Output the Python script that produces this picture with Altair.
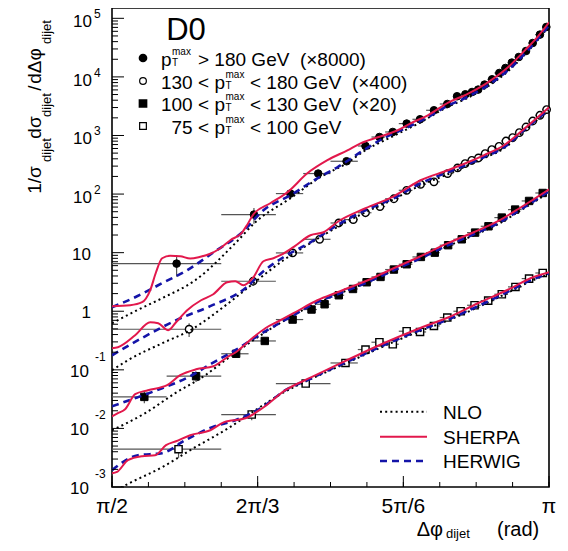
import math
import pandas as pd
import altair as alt

PI = math.pi
FONT = "Liberation Sans"
RED = "#e2184c"
BLUE = "#1414a8"
GRAY = "#555555"
W, H = 437, 479

# ---------------- measured data (x in rad) ----------------
# pT > 180 GeV (x8000), filled circles
s1_x = [1.803, 2.081, 2.212, 2.312, 2.414, 2.482, 2.532, 2.580, 2.630, 2.678, 2.728, 2.776, 2.811,
        2.841, 2.865, 2.887, 2.910, 2.937, 2.963, 2.985, 3.008, 3.033, 3.059, 3.083, 3.109, 3.132]
s1_y = [6.5, 44.7, 102, 224, 363, 662, 942, 1148, 1596, 1890, 2692, 3447, 4667,
        5047, 5525, 6070, 7390, 9100, 11660, 14190, 17540, 21860, 27670, 37880, 52700, 71100]
s1_edges = [0.5, 0.625, 0.6875, 0.71875, 0.75, 0.78125, 0.796875, 0.8125, 0.828125, 0.84375,
            0.859375, 0.875, 0.890625, 0.8984375, 0.90625, 0.9140625, 0.921875, 0.9296875, 0.9375,
            0.9453125, 0.953125, 0.9609375, 0.96875, 0.9765625, 0.984375, 0.9921875, 1.0]
s1_err = [0.40, 0.30, 0.20, 0.14, 0.10, 0.08, 0.07, 0.06, 0.05, 0.05, 0.05, 0.04, 0.04,
          0.04, 0.04, 0.04, 0.04, 0.04, 0.04, 0.04, 0.04, 0.04, 0.04, 0.04, 0.04, 0.04]

# 130 < pT < 180 GeV (x400), open circles
s2_x = [1.848, 2.078, 2.220, 2.317, 2.386, 2.438, 2.482, 2.534, 2.584, 2.630, 2.680, 2.728, 2.777, 2.813,
        2.840, 2.864, 2.888, 2.912, 2.936, 2.962, 2.987, 3.011, 3.035, 3.059, 3.083, 3.109, 3.133]
s2_y = [0.493, 3.25, 9.9, 16.9, 32.1, 36.7, 48.0, 61.2, 83.2, 116, 147, 162, 224, 279,
        331, 377, 413, 491, 574, 654, 805, 920, 1119, 1396, 1767, 2213, 2767]
s2_edges = [0.5, 0.625, 0.6875, 0.71875, 0.75, 0.765625, 0.78125, 0.796875, 0.8125, 0.828125,
            0.84375, 0.859375, 0.875, 0.890625, 0.8984375, 0.90625, 0.9140625, 0.921875, 0.9296875,
            0.9375, 0.9453125, 0.953125, 0.9609375, 0.96875, 0.9765625, 0.984375, 0.9921875, 1.0]
s2_err = [0.26, 0.15, 0.10, 0.08, 0.06, 0.05, 0.05, 0.04, 0.04, 0.04, 0.04, 0.04, 0.04, 0.04,
          0.04, 0.04, 0.04, 0.04, 0.04, 0.04, 0.04, 0.04, 0.04, 0.04, 0.04, 0.04, 0.04]

# 100 < pT < 130 GeV (x20), filled squares
s3_x = [1.687, 1.873, 2.017, 2.120, 2.220, 2.288, 2.335, 2.386, 2.437, 2.486, 2.536, 2.584,
        2.630, 2.681, 2.731, 2.779, 2.828, 2.876, 2.924, 2.972, 3.020, 3.070, 3.119]
s3_y = [0.0345, 0.0778, 0.188, 0.311, 0.721, 1.07, 1.316, 1.875, 2.40, 3.125, 3.85, 5.15,
        6.34, 8.45, 10.0, 13.4, 16.9, 22.0, 28.2, 39.7, 54.4, 76.3, 104.4]
s3_edges = [0.5, 0.5625, 0.625, 0.65625, 0.6875, 0.71875, 0.734375, 0.75, 0.765625, 0.78125,
            0.796875, 0.8125, 0.828125, 0.84375, 0.859375, 0.875, 0.890625, 0.90625, 0.921875,
            0.9375, 0.953125, 0.96875, 0.984375, 1.0]
s3_err = [0.22, 0.20, 0.10, 0.08, 0.06, 0.05, 0.04, 0.04, 0.04, 0.04, 0.04, 0.04,
          0.04, 0.04, 0.04, 0.04, 0.04, 0.04, 0.04, 0.04, 0.04, 0.04, 0.04]

# 75 < pT < 100 GeV, open squares
s4_x = [1.810, 2.073, 2.267, 2.410, 2.482, 2.532, 2.580, 2.630, 2.678, 2.728, 2.776, 2.824,
        2.874, 2.923, 2.972, 3.021, 3.070, 3.119]
s4_y = [0.00442, 0.01726, 0.0583, 0.131, 0.222, 0.296, 0.2735, 0.456, 0.443, 0.561, 0.781, 1.0,
        1.265, 1.52, 1.95, 2.60, 3.61, 4.5]
s4_edges = [0.5, 0.625, 0.6875, 0.75, 0.78125, 0.796875, 0.8125, 0.828125, 0.84375, 0.859375,
            0.875, 0.890625, 0.90625, 0.921875, 0.9375, 0.953125, 0.96875, 0.984375, 1.0]
s4_err = [0.29, 0.20, 0.10, 0.08, 0.06, 0.05, 0.04, 0.04, 0.04, 0.04, 0.04, 0.04,
          0.04, 0.04, 0.04, 0.04, 0.04, 0.04]

# ---------------- theory curves ----------------
sherpa1_x = [1.571, 1.636, 1.679, 1.708, 1.729, 1.751, 1.780, 1.816, 1.852, 1.888, 1.924, 1.960, 1.996,
             2.039, 2.057, 2.079, 2.140, 2.201, 2.273, 2.345, 2.417, 2.464, 2.526, 2.598, 2.644, 2.706,
             2.781, 2.846, 2.911, 2.990, 3.055, 3.102, 3.142]
sherpa1_y = [1.22, 1.27, 1.43, 2.28, 4.63, 8.02, 8.85, 8.68, 7.93, 8.51, 9.58, 11.9, 16.3,
             22.3, 30.0, 45.2, 69.7, 107, 226, 378, 559, 736, 931, 1230, 1610, 2210,
             3690, 5050, 7480, 14000, 28400, 49300, 85500]
herwig1_x = [1.571, 1.661, 1.751, 1.841, 1.931, 2.039, 2.115, 2.212, 2.309, 2.381, 2.475, 2.547, 2.633,
             2.706, 2.774, 2.846, 2.911, 2.990, 3.059, 3.142]
herwig1_y = [1.17, 1.80, 3.01, 5.01, 9.77, 22.3, 53.0, 95.5, 186, 287, 559, 896, 1380,
             2050, 3150, 4490, 6650, 12500, 26300, 76000]
nlo1_x = [1.571, 1.661, 1.751, 1.870, 2.014, 2.086, 2.212, 2.313, 2.414, 2.482, 2.580, 2.680, 2.774,
          2.846, 2.911, 2.990, 3.059, 3.142]
nlo1_y = [0.624, 1.04, 1.67, 3.38, 14.5, 33.0, 84.8, 186, 336, 559, 969, 1680, 3030,
          4310, 6390, 12000, 25300, 73000]

sherpa2_x = [1.571, 1.592, 1.654, 1.708, 1.737, 1.773, 1.801, 1.841, 1.891, 1.935, 1.985, 2.014, 2.043,
             2.079, 2.115, 2.151, 2.176, 2.223, 2.284, 2.331, 2.385, 2.482, 2.583, 2.680, 2.778, 2.850,
             2.907, 2.980, 3.059, 3.142]
sherpa2_y = [0.234, 0.243, 0.389, 0.649, 0.624, 0.474, 0.649, 1.04, 1.54, 1.95, 3.13, 3.25, 2.78,
             3.80, 7.13, 8.02, 9.04, 12.4, 19.8, 22.3, 34.4, 57.3, 91.7, 172, 255, 349,
             459, 681, 1380, 3030]
herwig2_x = [1.571, 1.690, 1.809, 1.924, 2.050, 2.111, 2.187, 2.284, 2.385, 2.482, 2.583, 2.680, 2.778,
             2.850, 2.907, 2.980, 3.059, 3.142]
herwig2_y = [0.177, 0.374, 0.730, 1.22, 2.47, 4.63, 8.35, 15.0, 30.5, 53.0, 84.8, 153, 236,
             323, 425, 630, 1330, 2800]
nlo2_x = [1.571, 1.628, 1.751, 1.852, 1.989, 2.075, 2.187, 2.284, 2.385, 2.482, 2.583, 2.680, 2.778,
          2.850, 2.907, 2.980, 3.059, 3.142]
nlo2_y = [0.0984, 0.146, 0.284, 0.474, 1.37, 2.89, 7.42, 14.5, 28.2, 48.9, 81.5, 141, 218,
          310, 408, 605, 1280, 2690]

sherpa3_x = [1.571, 1.592, 1.618, 1.654, 1.700, 1.769, 1.816, 1.873, 1.935, 1.985, 2.021, 2.079, 2.122,
             2.169, 2.223, 2.309, 2.381, 2.490, 2.583, 2.680, 2.778, 2.871, 2.958, 3.041, 3.142]
sherpa3_y = [0.0161, 0.0182, 0.0213, 0.0384, 0.0449, 0.0546, 0.0809, 0.102, 0.115, 0.164, 0.208, 0.360,
             0.513, 0.675, 0.925, 1.54, 2.11, 3.38, 5.42, 8.68, 14.5, 22.3, 34.4, 59.6, 121]
herwig3_x = [1.571, 1.664, 1.751, 1.845, 1.931, 2.014, 2.104, 2.223, 2.309, 2.381, 2.490, 2.583, 2.680,
             2.778, 2.871, 2.958, 3.041, 3.142]
herwig3_y = [0.0239, 0.0341, 0.0486, 0.0748, 0.130, 0.216, 0.405, 0.855, 1.43, 1.95, 3.13, 5.01, 8.02,
             13.4, 20.6, 31.8, 55.1, 112]
nlo3_x = [1.571, 1.690, 1.798, 1.906, 1.978, 2.068, 2.162, 2.248, 2.381, 2.490, 2.583, 2.680, 2.778,
          2.871, 2.958, 3.041, 3.142]
nlo3_y = [0.00931, 0.0182, 0.0399, 0.0809, 0.146, 0.296, 0.577, 1.0, 1.95, 3.13, 5.01, 8.02, 12.9,
          19.8, 30.5, 53.0, 107]

sherpa4_x = [1.571, 1.589, 1.628, 1.679, 1.726, 1.765, 1.801, 1.852, 1.924, 1.974, 2.050, 2.111, 2.194,
             2.288, 2.363, 2.468, 2.572, 2.677, 2.781, 2.886, 2.990, 3.084, 3.142]
sherpa4_y = [0.00172, 0.00181, 0.00287, 0.00336, 0.00349, 0.00517, 0.00605, 0.00766, 0.00931, 0.0128,
             0.0149, 0.0221, 0.0449, 0.0748, 0.111, 0.192, 0.320, 0.513, 0.791, 1.37, 2.28, 3.80, 4.63]
herwig4_x = [1.571, 1.664, 1.751, 1.834, 1.931, 2.014, 2.111, 2.194, 2.288, 2.363, 2.468, 2.572, 2.677,
             2.781, 2.886, 2.990, 3.084, 3.142]
herwig4_y = [0.00194, 0.00349, 0.00378, 0.00629, 0.0105, 0.0138, 0.0230, 0.0449, 0.0719, 0.106, 0.177,
             0.296, 0.474, 0.730, 1.22, 2.11, 3.52, 4.45]
nlo4_x = [1.571, 1.607, 1.751, 1.870, 1.989, 2.075, 2.183, 2.284, 2.363, 2.468, 2.572, 2.677, 2.781,
          2.886, 2.990, 3.084, 3.142]
nlo4_y = [0.000783, 0.000993, 0.00218, 0.00478, 0.0101, 0.0189, 0.0399, 0.0692, 0.102, 0.171, 0.284,
          0.456, 0.702, 1.17, 2.03, 3.38, 4.28]

# axis tick labels
x_tick_vals = [0.5, 2 / 3, 5 / 6, 1.0]          # in units of pi
x_tick_text = ["\u03c0/2", "2\u03c0/3", "5\u03c0/6", "\u03c0"]
y_pos_vals = [1e2, 1e3, 1e4, 1e5]
y_pos_exp = ["2", "3", "4", "5"]
y_plain_vals = [10, 1]
y_plain_text = ["10", "1"]
y_neg_vals = [1e-1, 1e-2, 1e-3]
y_neg_exp = ["-1", "-2", "-3"]

# ---------------- build tables ----------------
def points(xs, ys, edges, errs):
    rows = []
    for i, (x, y) in enumerate(zip(xs, ys)):
        e = errs[i]
        rows.append(dict(x=x, y=y, xlo=edges[i] * PI, xhi=edges[i + 1] * PI,
                         ylo=y * (1 - e), yhi=y * (1 + e)))
    return pd.DataFrame(rows)

p1 = points(s1_x, s1_y, s1_edges, s1_err)
p2 = points(s2_x, s2_y, s2_edges, s2_err)
p3 = points(s3_x, s3_y, s3_edges, s3_err)
p4 = points(s4_x, s4_y, s4_edges, s4_err)
allp = pd.concat([p1, p2, p3, p4], ignore_index=True)

curves = []
for model, lst in [("NLO", [(nlo1_x, nlo1_y), (nlo2_x, nlo2_y), (nlo3_x, nlo3_y), (nlo4_x, nlo4_y)]),
                   ("SHERPA", [(sherpa1_x, sherpa1_y), (sherpa2_x, sherpa2_y), (sherpa3_x, sherpa3_y), (sherpa4_x, sherpa4_y)]),
                   ("HERWIG", [(herwig1_x, herwig1_y), (herwig2_x, herwig2_y), (herwig3_x, herwig3_y), (herwig4_x, herwig4_y)])]:
    for k, (xs, ys) in enumerate(lst):
        for x, y in zip(xs, ys):
            curves.append(dict(model=model, series=k, x=x, y=y))
cdf = pd.DataFrame(curves)

XS = alt.Scale(domain=[PI / 2, PI], nice=False, zero=False)
YS = alt.Scale(type="log", domain=[1e-3, 1.5e5], nice=False)

def X(f):
    return alt.X(f, type="quantitative", scale=XS, axis=None)

def Y(f):
    return alt.Y(f, type="quantitative", scale=YS, axis=None)

ONE = pd.DataFrame({"k": [0]})

def txt(s, x, y, size, align="left", baseline="alphabetic", angle=None):
    kw = dict(text=s, align=align, baseline=baseline, fontSize=size, font=FONT, color="black")
    if angle is not None:
        kw["angle"] = angle
    return alt.Chart(ONE).mark_text(**kw).encode(x=alt.value(x), y=alt.value(y))

layers = []

# error bars
layers.append(alt.Chart(allp).mark_rule(color=GRAY, strokeWidth=1.2).encode(
    x=X("xlo"), x2="xhi", y=Y("y")))
layers.append(alt.Chart(allp).mark_rule(color=GRAY, strokeWidth=1.2).encode(
    x=X("x"), y=Y("ylo"), y2="yhi"))

# markers
def marker(df, shape, black, size):
    if black:
        m = alt.Chart(df).mark_point(shape=shape, filled=True, fill="black", stroke="black",
                                     strokeWidth=1, size=size, opacity=1)
    else:
        m = alt.Chart(df).mark_point(shape=shape, filled=True, fill="white", stroke="black",
                                     strokeWidth=1.4, size=size, opacity=1)
    return m.encode(x=X("x"), y=Y("y"))

layers.append(marker(p1, "circle", True, 58))
layers.append(marker(p2, "circle", False, 55))
layers.append(marker(p3, "square", True, 55))
layers.append(marker(p4, "square", False, 52))

# curves
styles = {
    "NLO": dict(color="black", strokeWidth=2, strokeDash=[2, 3.2]),
    "SHERPA": dict(color=RED, strokeWidth=2),
    "HERWIG": dict(color=BLUE, strokeWidth=2.6, strokeDash=[7, 5]),
}
for model in ["NLO", "HERWIG", "SHERPA"]:
    layers.append(alt.Chart(cdf[cdf.model == model]).mark_line(
        clip=True, interpolate="monotone", **styles[model]).encode(
        x=X("x"), y=Y("y"), detail="series:N"))

# y ticks (inside)
ymaj = pd.DataFrame({"v": [1e-3, 1e-2, 1e-1, 1, 10, 1e2, 1e3, 1e4, 1e5]})
ymin_vals = []
for n in range(-3, 5):
    for k in range(2, 10):
        ymin_vals.append(k * 10.0 ** n)
ymin = pd.DataFrame({"v": ymin_vals})
layers.append(alt.Chart(ymaj).mark_rule(color="black", strokeWidth=1).encode(
    y=Y("v"), x=alt.value(0), x2=alt.value(12)))
layers.append(alt.Chart(ymin).mark_rule(color="black", strokeWidth=1).encode(
    y=Y("v"), x=alt.value(0), x2=alt.value(6)))

# x ticks (inside)
xmaj = pd.DataFrame({"v": [v * PI for v in x_tick_vals]})
xmin = pd.DataFrame({"v": [PI / 2 + k * PI / 24 for k in range(13)]})
layers.append(alt.Chart(xmaj).mark_rule(color="black", strokeWidth=1).encode(
    x=X("v"), y=alt.value(H), y2=alt.value(H - 11)))
layers.append(alt.Chart(xmin).mark_rule(color="black", strokeWidth=1).encode(
    x=X("v"), y=alt.value(H), y2=alt.value(H - 5)))

# x tick labels
xl = pd.DataFrame({"v": [v * PI for v in x_tick_vals], "t": x_tick_text})
layers.append(alt.Chart(xl).mark_text(font=FONT, fontSize=21, align="center", baseline="middle",
                                      color="black").encode(
    x=X("v"), y=alt.value(H + 20), text="t:N"))

# y tick labels
yp = pd.DataFrame({"v": y_pos_vals, "e": y_pos_exp})
layers.append(alt.Chart(yp).mark_text(text="10", font=FONT, fontSize=17, align="right",
                                      baseline="middle", dy=4, color="black").encode(
    y=Y("v"), x=alt.value(-20)))
layers.append(alt.Chart(yp).mark_text(font=FONT, fontSize=12, align="left",
                                      baseline="middle", dy=-4, color="black").encode(
    y=Y("v"), x=alt.value(-18), text="e:N"))
ypl = pd.DataFrame({"v": y_plain_vals, "t": y_plain_text})
layers.append(alt.Chart(ypl).mark_text(font=FONT, fontSize=17, align="right",
                                       baseline="middle", dy=2, color="black").encode(
    y=Y("v"), x=alt.value(-21), text="t:N"))
yn = pd.DataFrame({"v": y_neg_vals, "e": y_neg_exp})
layers.append(alt.Chart(yn).mark_text(text="10", font=FONT, fontSize=17, align="right",
                                      baseline="middle", dy=2, color="black").encode(
    y=Y("v"), x=alt.value(-23)))
layers.append(alt.Chart(yn).mark_text(font=FONT, fontSize=12, align="left",
                                      baseline="middle", dy=-13, color="black").encode(
    y=Y("v"), x=alt.value(-17), text="e:N"))

# axis titles
layers += [
    txt("\u0394\u03c6", 331, 528, 20, align="right"),
    txt("dijet", 334, 530, 13),
    txt("(rad)", 385, 528, 20),
    txt("1/\u03c3", -77, 172, 19, align="center", baseline="middle", angle=270),
    txt("dijet", -65, 142, 13, align="center", baseline="middle", angle=270),
    txt("d\u03c3", -77, 119.5, 19, align="center", baseline="middle", angle=270),
    txt("dijet", -65, 97, 13, align="center", baseline="middle", angle=270),
    txt("/", -77, 80, 19, align="center", baseline="middle", angle=270),
    txt("d\u0394\u03c6", -77, 58, 19, align="center", baseline="middle", angle=270),
    txt("dijet", -65, 24, 13, align="center", baseline="middle", angle=270),
]

# top-left legend
layers.append(txt("D0", 74, 32, 31, align="center"))

def legend_marker(shape, black, y):
    d = pd.DataFrame({"k": [0]})
    if black:
        m = alt.Chart(d).mark_point(shape=shape, filled=True, fill="black", stroke="black",
                                    size=45, opacity=1)
    else:
        m = alt.Chart(d).mark_point(shape=shape, filled=True, fill="white", stroke="black",
                                    strokeWidth=1.2, size=45, opacity=1)
    return m.encode(x=alt.value(31), y=alt.value(y))

layers += [legend_marker("circle", True, 50), legend_marker("circle", False, 73),
           legend_marker("square", True, 95.5), legend_marker("square", False, 118)]

NB = "\u00a0"
line_c = [51, 74, 96.5, 119]
SUP = -4.5
SUB = 6.8
# line 1
c = line_c[0]
layers += [txt("p", 49, c + 6.8, 19), txt("max", 60, c + SUP, 10), txt("T", 60, c + SUB, 10),
           txt("> 180 GeV" + NB + NB + "(\u00d78000)", 86, c + 6.8, 19)]
pre = ["130 <", "100 <", "75 <"]
post = ["< 180 GeV" + NB + NB + "(\u00d7400)", "< 130 GeV" + NB + NB + "(\u00d720)", "< 100 GeV"]
for i in range(3):
    c = line_c[i + 1]
    layers += [txt(pre[i], 97, c + 6.8, 19, align="right"), txt("p", 102.5, c + 6.8, 19),
               txt("max", 113.5, c + SUP, 10), txt("T", 113.5, c + SUB, 10),
               txt(post[i], 138, c + 6.8, 19)]

# bottom-right legend
lg_y = [403.7, 428.7, 453]
layers.append(alt.Chart(ONE).mark_rule(color="black", strokeWidth=2, strokeDash=[2, 3.2]).encode(
    x=alt.value(268), x2=alt.value(315), y=alt.value(lg_y[0])))
layers.append(alt.Chart(ONE).mark_rule(color=RED, strokeWidth=2).encode(
    x=alt.value(268), x2=alt.value(315), y=alt.value(lg_y[1])))
layers.append(alt.Chart(ONE).mark_rule(color=BLUE, strokeWidth=2.6, strokeDash=[7, 5]).encode(
    x=alt.value(268), x2=alt.value(315), y=alt.value(lg_y[2])))
layers += [txt("NLO", 331, lg_y[0] + 6.8, 19), txt("SHERPA", 331, lg_y[1] + 6.8, 19),
           txt("HERWIG", 331, lg_y[2] + 6.8, 19)]

chart = alt.layer(*layers).properties(
    width=W, height=H,
    autosize=alt.AutoSizeParams(type="none"),
    padding={"left": 104, "top": 0, "right": 11, "bottom": 56},
    background="white",
).configure_view(stroke="black", strokeWidth=1.6)

chart.save("out.html", embed_options={"renderer": "svg", "actions": False})
